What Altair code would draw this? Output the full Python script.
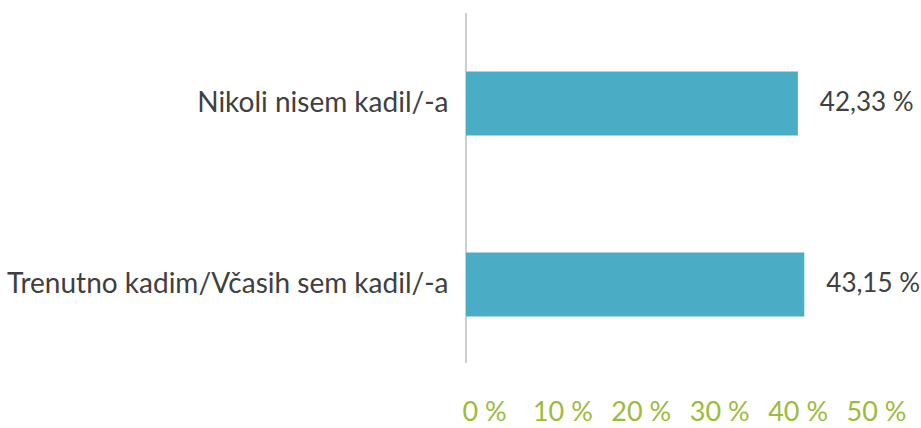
import altair as alt
import pandas as pd

categories = ["Nikoli nisem kadil/-a", "Trenutno kadim/Včasih sem kadil/-a"]
values = [42.33, 43.15]
value_labels = ["42,33 %", "43,15 %"]
x_ticks = [0, 10, 20, 30, 40, 50]

df = pd.DataFrame({"cat": categories, "val": values, "lab": value_labels})

FONT = "Lato"
TXT = "#404040"
FS = 28

x = alt.X("val:Q", scale=alt.Scale(domain=[0, 50], nice=False),
          axis=alt.Axis(values=x_ticks, labelExpr="datum.value + ' %'", title=None,
                        ticks=False, grid=False, domain=False, labelColor="#9BBB3B",
                        labelFontSize=27, labelFont=FONT, labelAlign="center", labelOffset=18,
                        labelPadding=24, labelFlush=False, labelOverlap=False))
y = alt.Y("cat:N", sort=categories,
          axis=alt.Axis(title=None, ticks=False, domain=False, grid=False,
                        labelColor=TXT, labelFontSize=FS, labelFont=FONT, labelPadding=18,
                        labelLimit=600))

bars = alt.Chart(df).mark_bar(size=64, color="#4BACC6").encode(x=x, y=y)
text = alt.Chart(df).mark_text(align="left", dx=22, dy=-1, fontSize=26, font=FONT, color=TXT).encode(
    x="val:Q", y=alt.Y("cat:N", sort=categories), text="lab:N")
rule = alt.Chart(df).mark_rule(color="#BFBFBF", strokeWidth=1).encode(
    x=alt.value(0), y=alt.value(0), y2=alt.value(350))

chart = alt.layer(rule, bars, text).properties(
    width=392, height=362,
    autosize=alt.AutoSizeParams(type="none"),
    padding={"left": 466, "top": 13, "right": 63, "bottom": 53},
).configure_view(stroke=None)

chart.save("out.html", embed_options={"renderer": "svg", "actions": False})
